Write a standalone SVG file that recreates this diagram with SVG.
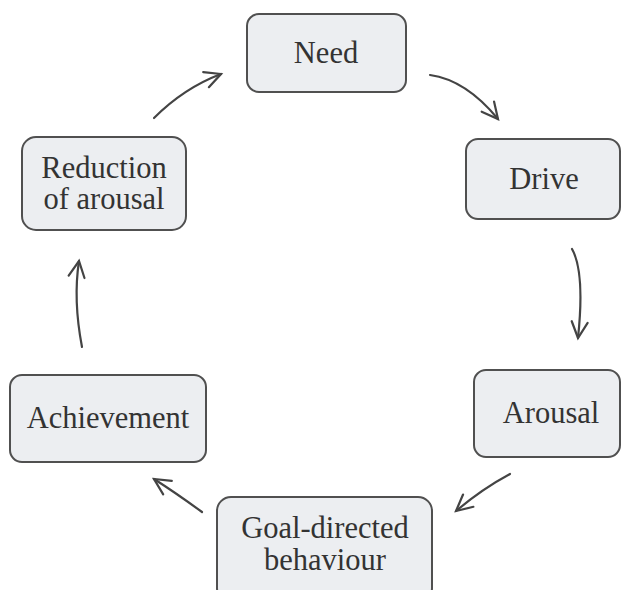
<svg xmlns="http://www.w3.org/2000/svg" width="621" height="590" viewBox="0 0 621 590">
<defs>
<style>
.box{fill:#eceef1;stroke:#505050;stroke-width:2}
.lbl{font-family:'Liberation Serif','DejaVu Serif',serif;font-size:30.5px;fill:#333;text-anchor:middle}
.arr{fill:none;stroke:#444;stroke-width:2.2;stroke-linecap:round;marker-end:url(#ah)}
</style>
<marker id="ah" markerUnits="userSpaceOnUse" markerWidth="40" markerHeight="40" refX="0" refY="0" viewBox="-20 -20 40 40" orient="auto" overflow="visible">
<path d="M-16,-8 L0,0 L-16,8" fill="none" stroke="#444" stroke-width="2.2" stroke-linecap="round" stroke-linejoin="miter"/>
</marker>
</defs>
<rect width="621" height="590" fill="#fff"/>
<g id="connectors">
<path class="arr" d="M430,75 Q466,80 498,119"/>
<path class="arr" d="M572,249 Q585,272 578,338"/>
<path class="arr" d="M510,474 Q482,489 456,511"/>
<path class="arr" d="M202,512 Q176,493 154,479"/>
<path class="arr" d="M82,347 Q73,300 79,261"/>
<path class="arr" d="M154,118 Q184,88 221,74"/>
</g>
<g id="need">
<rect class="box" x="247" y="14" width="159" height="78" rx="12"/>
<text class="lbl" x="326" y="63" font-family="Liberation Serif, serif">Need</text>
</g>
<g id="drive">
<rect class="box" x="466" y="139" width="154" height="80" rx="12"/>
<text class="lbl" x="544" y="189" font-family="Liberation Serif, serif">Drive</text>
</g>
<g id="arousal">
<rect class="box" x="474" y="370" width="146" height="87" rx="12"/>
<text class="lbl" x="551" y="423" font-family="Liberation Serif, serif">Arousal</text>
</g>
<g id="goal">
<rect class="box" x="217" y="497" width="215" height="105" rx="14"/>
<text class="lbl" x="325" y="538" font-family="Liberation Serif, serif">Goal-directed</text>
<text class="lbl" x="325" y="570" font-family="Liberation Serif, serif">behaviour</text>
</g>
<g id="achievement">
<rect class="box" x="10" y="375" width="196" height="87" rx="12"/>
<text class="lbl" x="108" y="428" font-family="Liberation Serif, serif">Achievement</text>
</g>
<g id="reduction">
<rect class="box" x="22" y="137" width="164" height="93" rx="14"/>
<text class="lbl" x="104" y="178" font-family="Liberation Serif, serif">Reduction</text>
<text class="lbl" x="104" y="209" font-family="Liberation Serif, serif">of arousal</text>
</g>
</svg>
